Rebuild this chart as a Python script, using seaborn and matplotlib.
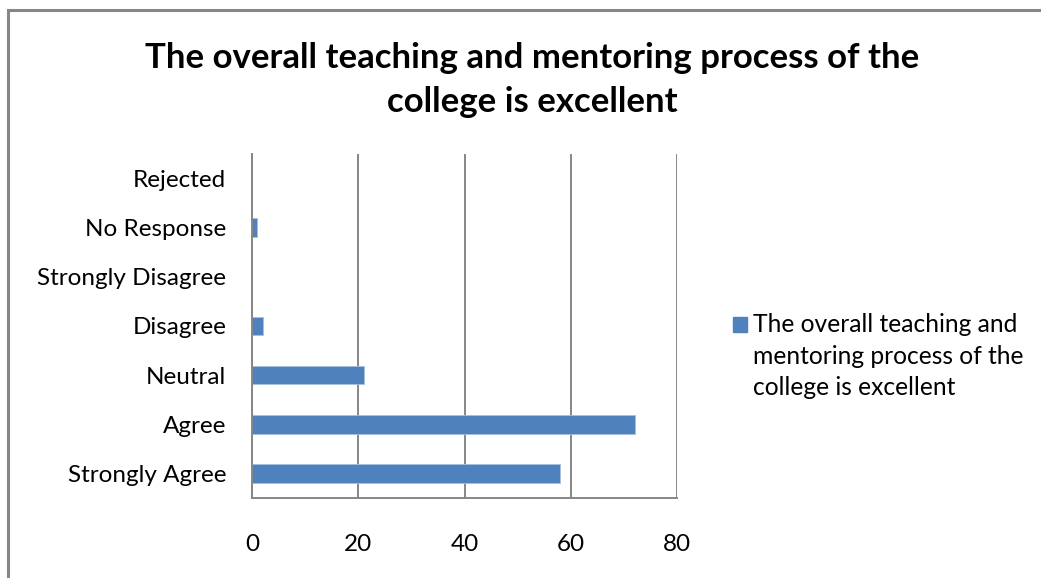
import matplotlib
matplotlib.use("Agg")
import matplotlib.pyplot as plt
import matplotlib.patches as mpatches
from matplotlib.legend_handler import HandlerPatch
import pandas as pd
import seaborn as sns

# survey responses, bottom to top as in the chart
categories = ["Strongly Agree", "Agree", "Neutral", "Disagree",
              "Strongly Disagree", "No Response", "Rejected"]
counts = [58, 72, 21, 2, 0, 1, 0]
x_ticks = [0, 20, 40, 60, 80]
series_name = "The overall teaching and mentoring process of the college is excellent"
legend_label = "The overall teaching and\nmentoring process of the\ncollege is excellent"
title = "The overall teaching and mentoring process of the\ncollege is excellent"

BAR = "#4f81bd"
GRID = "#868686"

df = pd.DataFrame({"category": categories, "count": counts})

sns.set_style("white")
plt.rcParams["font.family"] = ["Lato", "DejaVu Sans"]
plt.rcParams["text.color"] = "black"
plt.rcParams["xtick.color"] = "black"
plt.rcParams["ytick.color"] = "black"

fig = plt.figure(figsize=(10.41, 5.78), dpi=100)
ax = fig.add_axes([252 / 1041, 1 - 498 / 578, 425 / 1041, 344 / 578])

sns.barplot(data=df, x="count", y="category", order=categories[::-1],
            color=BAR, width=0.38, saturation=1, ax=ax, label=series_name,
            edgecolor="#a7c0de", linewidth=0.6)

ax.set_xlim(0, 80)
ax.set_ylim(6.5, -0.5)
ax.set_xticks(x_ticks)
ax.set_xlabel("")
ax.set_ylabel("")
ax.xaxis.grid(True, color=GRID, linewidth=1.4)
ax.set_axisbelow(True)
for s in ["top", "right"]:
    ax.spines[s].set_visible(False)
for s in ["left", "bottom"]:
    ax.spines[s].set_color(GRID)
    ax.spines[s].set_linewidth(1.4)

# tick marks sit between the categories, labels at the centres
ax.set_yticks(range(len(categories)))
ax.set_yticklabels(categories[::-1])
ax.set_yticks([i + 0.5 for i in range(-1, len(categories))], minor=True)
ax.tick_params(axis="y", which="major", length=0, pad=18.5, labelsize=17.5,
               labelcolor="black")
ax.tick_params(axis="y", which="minor", length=6.5, width=1.4, color=GRID, direction="out")
ax.tick_params(axis="x", length=6, width=1.4, color=GRID, direction="out", pad=20,
               labelsize=17.5, labelcolor="black")


# legend square lines up with the first line of the label
def top_square(legend, orig_handle, xdescent, ydescent, width, height, fontsize):
    return mpatches.Rectangle((-xdescent, -ydescent + 23), width, height)


leg = ax.legend(handles=[mpatches.Patch(color=BAR)], labels=[legend_label],
                loc="center left", bbox_to_anchor=(733 / 1041, 1 - 356 / 578),
                bbox_transform=fig.transFigure, frameon=False, fontsize=17.7,
                handlelength=0.57, handleheight=0.55, handletextpad=0.25,
                borderpad=0, borderaxespad=0,
                handler_map={mpatches.Patch: HandlerPatch(patch_func=top_square)})
for t in leg.get_texts():
    t.set_linespacing(1.45)

fig.text(532 / 1041, 1 - 80 / 578, title, ha="center", va="center",
         fontsize=25, fontweight="bold", linespacing=1.45, color="black")

# chart frame (only top and left edges fall inside the picture)
fig.patches.append(mpatches.Rectangle((8 / 1041, -0.1), 1.2, 1 - 10 / 578 + 0.1,
                                      transform=fig.transFigure, fill=False,
                                      edgecolor=GRID, linewidth=2.2))

fig.savefig("out.png", dpi=100)
